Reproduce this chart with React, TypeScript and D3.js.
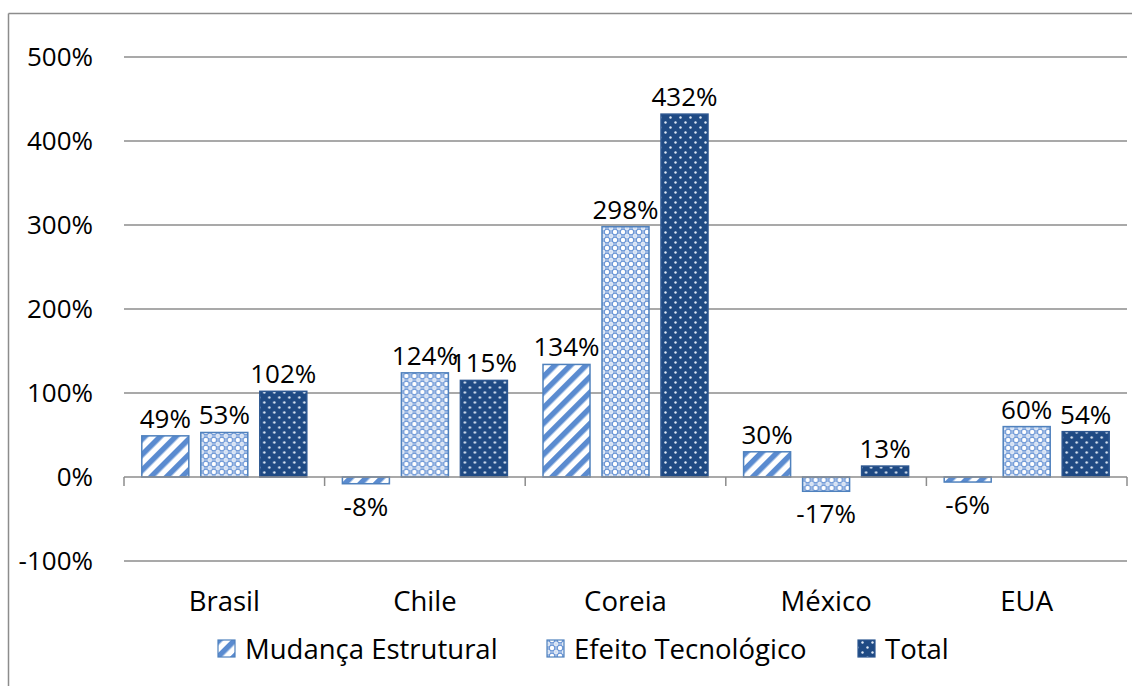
import React from "react";
import * as d3 from "d3";

const categories = ["Brasil", "Chile", "Coreia", "México", "EUA"];
const seriesNames = ["Mudança Estrutural", "Efeito Tecnológico", "Total"];
const mudanca = [0.49, -0.08, 1.34, 0.30, -0.06];
const efeito = [0.53, 1.24, 2.98, -0.17, 0.60];
const total = [1.02, 1.15, 4.32, 0.13, 0.54];
const yTicks = [-1, 0, 1, 2, 3, 4, 5];

const W = 1132;
const H = 686;
const FONT = "'Open Sans', 'Noto Sans', sans-serif";
const FS = 26;
const FS_TXT = 27.5;

export default function App() {
  const x0 = 124, x1 = 1127;
  const y = d3.scaleLinear().domain([-1, 5]).range([561, 57]);
  const xb = d3.scaleBand<string>().domain(categories).range([x0, x1]).paddingInner(0).paddingOuter(0);
  const xs = d3.scaleBand<number>().domain([0, 1, 2]).range([0, 165]).paddingInner(12 / 59).paddingOuter(0);
  const series = [mudanca, efeito, total];
  const fills = ["url(#pStripe)", "url(#pCheck)", "url(#pDots)"];
  const strokes = ["#4f81bd", "#4f81bd", "#2c5690"];
  const fmt = (v: number) => `${Math.round(v * 100)}%`;
  const groupOffset = (xb.bandwidth() - 165) / 2;

  return (
    <svg width={W} height={H} style={{ position: "absolute", left: 0, top: 0 }}>
      <defs>
        <pattern id="pStripe" patternUnits="userSpaceOnUse" width="11" height="11" patternTransform="rotate(45)">
          <rect width="11" height="11" fill="#ffffff" />
          <rect x="0" y="0" width="5.5" height="11" fill="#5a8bd0" />
        </pattern>
        <pattern id="pCheck" patternUnits="userSpaceOnUse" width="8" height="8">
          <rect width="8" height="8" fill="#6a95d5" />
          <circle cx="0" cy="0" r="2.2" fill="#ffffff" />
          <circle cx="8" cy="0" r="2.2" fill="#ffffff" />
          <circle cx="0" cy="8" r="2.2" fill="#ffffff" />
          <circle cx="8" cy="8" r="2.2" fill="#ffffff" />
          <circle cx="4" cy="4" r="2.2" fill="#ffffff" />
          <rect x="3.5" y="0" width="1" height="8" fill="#c8d8f0" />
          <rect x="0" y="3.5" width="8" height="1" fill="#c8d8f0" />
        </pattern>
        <pattern id="pDots" patternUnits="userSpaceOnUse" width="10" height="10">
          <rect width="10" height="10" fill="#1f4a84" />
          <circle cx="2.5" cy="2.5" r="1.2" fill="#dfe8f5" />
          <circle cx="7.5" cy="7.5" r="1.2" fill="#dfe8f5" />
        </pattern>
      </defs>
      <rect x={0} y={0} width={W} height={H} fill="#ffffff" />
      {/* outer border */}
      <line x1={8.5} y1={13.5} x2={W} y2={13.5} stroke="#8c8c8c" strokeWidth={1.5} />
      <line x1={8.5} y1={13.5} x2={8.5} y2={H} stroke="#8c8c8c" strokeWidth={1.5} />

      {/* gridlines */}
      {yTicks.map((t) => (
        <g key={t}>
          {t !== 0 && (
            <line x1={x0} x2={x1} y1={y(t)} y2={y(t)} stroke="#8c8c8c" strokeWidth={1.5} />
          )}
          <text x={93} y={y(t)} dy="0.36em" textAnchor="end" fontFamily={FONT} fontSize={FS} fill="#000">
            {`${t * 100}%`}
          </text>
        </g>
      ))}

      {/* bars */}
      {categories.map((c, i) => (
        <g key={c} transform={`translate(${(xb(c) as number) + groupOffset},0)`}>
          {series.map((s, k) => {
            const v = s[i];
            const bx = xs(k) as number;
            const bw = xs.bandwidth();
            const top = y(Math.max(0, v));
            const bot = y(Math.min(0, v));
            return (
              <g key={k}>
                <rect x={bx} y={top} width={bw} height={bot - top} fill={fills[k]} stroke={strokes[k]} strokeWidth={1.5} />
                <text
                  x={bx + bw / 2}
                  y={v >= 0 ? top - 8 : bot + 32}
                  textAnchor="middle"
                  fontFamily={FONT}
                  fontSize={FS}
                  fill="#000"
                >
                  {fmt(v)}
                </text>
              </g>
            );
          })}
        </g>
      ))}

      {/* zero axis */}
      <line x1={x0} x2={x1} y1={y(0)} y2={y(0)} stroke="#8c8c8c" strokeWidth={1.5} />
      {d3.range(categories.length + 1).map((j) => {
        const xx = x0 + j * xb.step();
        return <line key={j} x1={xx} x2={xx} y1={y(0)} y2={y(0) + 9} stroke="#8c8c8c" strokeWidth={1.5} />;
      })}

      {/* category labels */}
      {categories.map((c) => (
        <text key={c} x={(xb(c) as number) + xb.bandwidth() / 2} y={611} textAnchor="middle" fontFamily={FONT} fontSize={FS_TXT} fill="#000">
          {c}
        </text>
      ))}

      {/* legend */}
      {seriesNames.map((n, k) => {
        const lx = [218, 547, 858][k];
        return (
          <g key={n}>
            <rect x={lx} y={640} width={17} height={17} fill={fills[k]} stroke={strokes[k]} strokeWidth={1.2} />
            <text x={lx + 27} y={659} fontFamily={FONT} fontSize={FS_TXT} fill="#000">
              {n}
            </text>
          </g>
        );
      })}
    </svg>
  );
}
